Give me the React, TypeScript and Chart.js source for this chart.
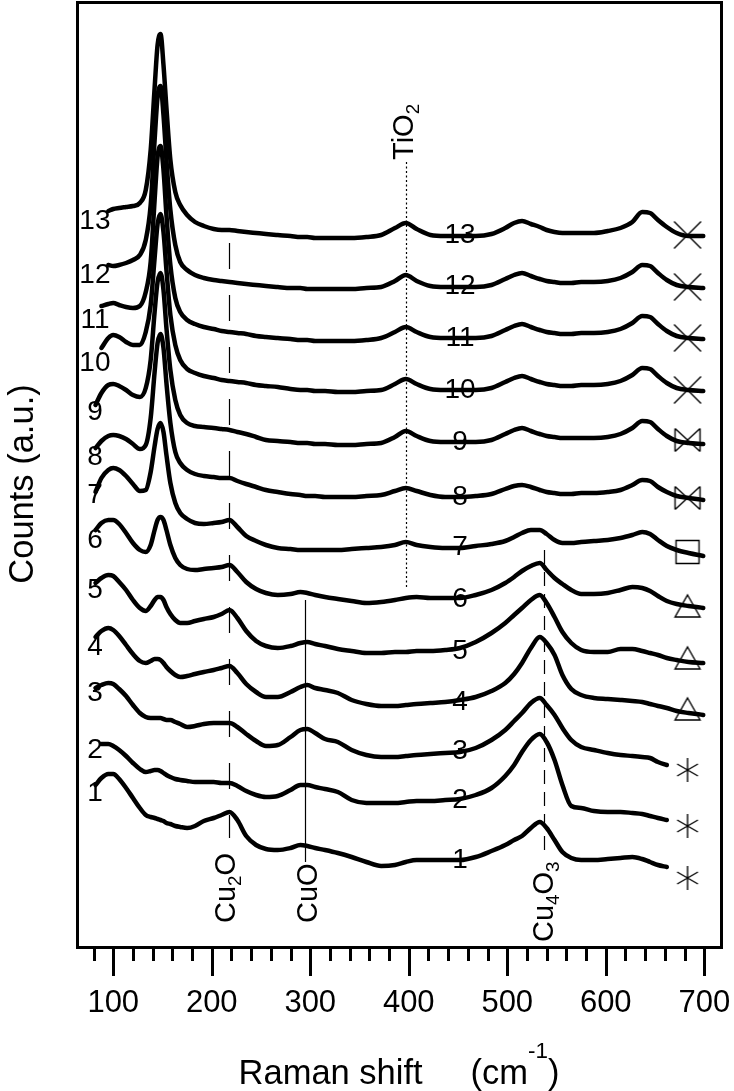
import React, { useEffect, useRef } from 'react';
import { Chart, registerables } from 'chart.js';

Chart.register(...registerables);

const FONT = "'Liberation Sans', Arial, Helvetica, sans-serif";

// Raman shift grid (cm-1)
const shift = [
  82, 88, 95, 100, 106, 113, 120, 127, 133, 138,
  142, 145, 148, 151, 154, 158, 163, 168, 175, 183,
  192, 202, 210, 218, 226, 235, 245, 255, 267, 280,
  290, 297, 305, 315, 328, 342, 357, 372, 386, 397,
  408, 422, 437, 452, 468, 484, 498, 507, 515, 524,
  533, 540, 548, 556, 565, 575, 588, 602, 615, 627,
  637, 645, 653, 662, 672, 684, 699,
];

// Counts (a.u., stacked) for each spectrum
const s1 = [
  215, 222, 226, 226, 221, 212, 202, 192, 185, 183,
  182, 181, 180, 179, 177, 176, 174, 173, 172, 174,
  179, 182, 185, 188, 180, 164, 155, 151, 150, 152,
  155, 154, 152, 150, 147, 143, 138, 134, 135, 138,
  140, 140, 140, 140, 143, 149, 155, 160, 164, 172,
  178, 172, 160, 148, 142, 140, 140, 141, 142, 143,
  141, 138, 135, 133, null, null, null,
];
const s2 = [
  null, 256, 256, 254, 250, 244, 237, 231, 228, 229,
  230, 230, 229, 227, 225, 223, 221, 220, 219, 218,
  218, 218, 217, 217, 214, 209, 205, 203, 204, 210,
  215, 215, 213, 211, 208, 200, 197, 197, 197, 198,
  199, 199, 200, 201, 205, 212, 224, 235, 248, 260,
  266, 258, 240, 215, 194, 192, 189, 188, 188, 187,
  186, 184, 182, 180, null, null, null,
];
const s3 = [
  312, 315, 317, 316, 311, 304, 295, 287, 283, 282,
  282, 282, 282, 281, 280, 280, 278, 276, 273, 274,
  276, 277, 277, 277, 273, 266, 259, 254, 255, 263,
  270, 271, 267, 261, 258, 250, 245, 243, 243, 244,
  245, 246, 247, 248, 252, 260, 270, 279, 287, 297,
  302, 295, 285, 272, 260, 253, 250, 247, 245, 244,
  243, 242, 238, 235, null, null, null,
];
const s4 = [
  363, 369, 372, 370, 364, 355, 346, 339, 337, 339,
  341, 341, 340, 337, 333, 329, 325, 323, 324, 326,
  328, 330, 332, 334, 327, 316, 308, 303, 303, 308,
  313, 315, 312, 310, 307, 300, 296, 294, 294, 295,
  296, 297, 298, 300, 303, 309, 317, 326, 337, 352,
  363, 357, 345, 325, 311, 305, 302, 301, 300, 299,
  298, 296, 294, 292, 289, 287, 285,
];
const s5 = [
  417, 422, 425, 424, 418, 410, 400, 392, 389, 394,
  400, 403, 403, 400, 393, 386, 380, 377, 377, 379,
  381, 383, 386, 390, 382, 369, 359, 354, 352, 354,
  357, 358, 356, 354, 351, 349, 347, 347, 348, 348,
  349, 349, 350, 352, 358, 367, 377, 385, 392, 400,
  405, 397, 383, 368, 357, 350, 348, 348, 351, 351,
  349, 347, 345, 342, 340, 338, 337,
];
const s6 = [
  470, 477, 480, 480, 476, 467, 457, 450, 448, 455,
  470, 480, 483, 480, 470, 455, 442, 435, 431, 430,
  431, 432, 433, 435, 428, 418, 411, 407, 405, 406,
  408, 407, 405, 403, 401, 399, 397, 398, 400, 402,
  403, 402, 402, 402, 405, 410, 417, 423, 429, 434,
  437, 430, 422, 416, 410, 406, 406, 407, 410, 413,
  412, 409, 404, 399, 396, 394, 392,
];
const s7 = [
  508, 522, 530, 532, 530, 524, 516, 509, 510, 528,
  554, 571, 577, 568, 545, 517, 497, 487, 481, 477,
  476, 477, 478, 480, 473, 464, 459, 455, 452, 451,
  450, 450, 450, 450, 450, 451, 452, 453, 455, 458,
  455, 453, 452, 452, 454, 456, 459, 463, 467, 470,
  470, 466, 460, 457, 457, 458, 459, 460, 462, 465,
  468, 466, 460, 454, 450, 447, 444,
];
const s8 = [
  552, 559, 564, 565, 564, 561, 556, 551, 555, 582,
  628, 657, 666, 652, 617, 577, 548, 537, 530, 526,
  524, 523, 522, 522, 519, 516, 513, 510, 508, 506,
  505, 504, 504, 503, 503, 503, 504, 505, 509, 512,
  509, 505, 503, 503, 504, 506, 511, 514, 515, 513,
  510, 508, 507, 506, 506, 507, 507, 508, 510, 515,
  520, 519, 513, 508, 504, 502, 500,
];
const s9 = [
  595, 607, 615, 616, 614, 610, 605, 603, 612, 640,
  688, 718, 727, 710, 672, 630, 600, 585, 577, 574,
  573, 572, 571, 570, 568, 566, 563, 560, 559, 558,
  557, 557, 556, 556, 555, 555, 556, 557, 563, 569,
  564, 559, 558, 558, 558, 560, 566, 570, 572, 569,
  566, 564, 563, 562, 562, 562, 562, 563, 566, 572,
  579, 578, 571, 564, 559, 557, 556,
];
const s10 = [
  null, 652, 662, 665, 663, 658, 655, 655, 668, 695,
  742, 776, 786, 768, 730, 685, 655, 640, 631, 627,
  624, 622, 620, 619, 618, 617, 615, 614, 613, 611,
  610, 610, 609, 609, 608, 608, 609, 610, 616, 621,
  616, 611, 610, 610, 610, 612, 618, 622, 624, 621,
  618, 616, 615, 614, 614, 615, 615, 616, 619, 625,
  632, 631, 624, 617, 612, 610, 609,
];
const s11 = [
  null, 694, 696, 697, 695, 693, 692, 694, 708, 738,
  800, 843, 854, 830, 785, 735, 702, 688, 680, 676,
  673, 671, 669, 668, 667, 666, 664, 663, 662, 661,
  660, 660, 659, 659, 659, 659, 660, 662, 668, 673,
  668, 663, 662, 662, 662, 664, 670, 674, 676, 673,
  670, 668, 667, 666, 666, 667, 667, 668, 671, 677,
  684, 683, 676, 669, 664, 662, 661,
];
const s12 = [
  null, null, 735, 734, 735, 737, 740, 745, 760, 795,
  860, 903, 914, 885, 840, 790, 755, 738, 730, 725,
  722, 720, 719, 718, 717, 716, 715, 714, 713, 712,
  712, 711, 711, 711, 711, 711, 712, 713, 719, 725,
  719, 714, 713, 713, 713, 715, 721, 725, 727, 724,
  721, 719, 718, 717, 717, 718, 718, 719, 722, 728,
  735, 734, 727, 720, 715, 713, 712,
];
const s13 = [
  null, null, 789, 791, 792, 793, 794, 797, 810, 850,
  912, 955, 966, 935, 892, 840, 808, 795, 785, 778,
  774, 771, 770, 770, 769, 768, 767, 766, 765, 764,
  763, 763, 762, 762, 762, 762, 763, 765, 772, 777,
  771, 765, 764, 764, 764, 766, 772, 777, 779, 776,
  773, 770, 768, 767, 767, 767, 767, 769, 772, 778,
  788, 787, 780, 773, 767, 764, 764,
];

const spectra = [s1, s2, s3, s4, s5, s6, s7, s8, s9, s10, s11, s12, s13];
const sampleNames = ['1', '2', '3', '4', '5', '6', '7', '8', '9', '10', '11', '12', '13'];

// end-of-trace symbols
const markerKinds = [
  'asterisk', 'asterisk', 'asterisk', 'triangle', 'triangle', 'triangle', 'square',
  'bowtie', 'bowtie', 'cross', 'cross', 'cross', 'cross',
];
const markerShift = 683;
const markerLevel = [122, 174, 230, 291, 342, 394, 448, 502, 560, 610, 662, 713, 765];

// sample number tags (left and middle)
const leftTagShift = 81.4;
const leftTagLevel = [207, 250, 307, 353, 410, 460, 505, 543, 588, 637, 680, 725, 779];
const rightTagShift = 452;
const rightTagLevel = [140, 200, 249, 298, 349, 401, 453, 503, 558, 610, 662, 714, 765];

// phase reference lines
type Part = [string, number];
const refNames: Part[][] = [
  [['Cu', 0], ['2', 1], ['O', 0]],
  [['CuO', 0]],
  [['TiO', 0], ['2', 1]],
  [['Cu', 0], ['4', 1], ['O', 0], ['3', 1]],
];
const refShift = [218, 295, 397, 537];
const refTop = [757, 400, 838, 450];
const refBottom = [162, 138, 412, 150];
const refLabelShift = [223.6, 306.8, 404.3, 546.4];
const refLabelLevel = [77, 77, 840, 58];
const refDash: number[][] = [[26, 26], [], [2, 2.5], [14, 8]];

function makeMarker(kind: string): HTMLCanvasElement {
  const c = document.createElement('canvas');
  const S = 34;
  c.width = S;
  c.height = S;
  const g = c.getContext('2d')!;
  const m = S / 2;
  g.strokeStyle = '#000';
  g.lineWidth = 1.4;
  g.beginPath();
  if (kind === 'cross') {
    const a = 13.5;
    g.moveTo(m - a, m - a); g.lineTo(m + a, m + a);
    g.moveTo(m - a, m + a); g.lineTo(m + a, m - a);
  } else if (kind === 'bowtie') {
    const a = 12.5, b = 11.5;
    g.moveTo(m - a, m - b); g.lineTo(m + a, m + b);
    g.moveTo(m - a, m + b); g.lineTo(m + a, m - b);
    g.moveTo(m - a, m - b); g.lineTo(m - a, m + b);
    g.moveTo(m + a, m - b); g.lineTo(m + a, m + b);
  } else if (kind === 'square') {
    g.rect(m - 11.5, m - 11.5, 23, 23);
  } else if (kind === 'triangle') {
    g.moveTo(m, m - 11);
    g.lineTo(m + 12.5, m + 11);
    g.lineTo(m - 12.5, m + 11);
    g.closePath();
  } else {
    const r = 12;
    g.moveTo(m, m - r); g.lineTo(m, m + r);
    g.moveTo(m - r * 0.866, m - r * 0.5); g.lineTo(m + r * 0.866, m + r * 0.5);
    g.moveTo(m - r * 0.866, m + r * 0.5); g.lineTo(m + r * 0.866, m - r * 0.5);
  }
  g.stroke();
  return c;
}

function drawRich(
  ctx: CanvasRenderingContext2D,
  parts: Part[],
  x: number,
  y: number,
  size: number,
  angle: number,
  halo = false,
  align: 'left' | 'center' = 'left'
) {
  ctx.save();
  ctx.translate(x, y);
  ctx.rotate(angle);
  ctx.textAlign = 'left';
  ctx.textBaseline = 'alphabetic';
  let total = 0;
  for (const [t, k] of parts) {
    ctx.font = `${k === 0 ? size : size * 0.65}px ${FONT}`;
    total += ctx.measureText(t).width;
  }
  let cx = align === 'center' ? -total / 2 : 0;
  for (const [t, k] of parts) {
    const s = k === 0 ? size : size * 0.65;
    ctx.font = `${s}px ${FONT}`;
    const dy = k === 1 ? size * 0.22 : k === 2 ? -size * 0.75 : 0;
    if (halo) {
      ctx.strokeStyle = '#fff';
      ctx.lineWidth = 4;
      ctx.strokeText(t, cx, dy);
    }
    ctx.fillStyle = '#000';
    ctx.fillText(t, cx, dy);
    cx += ctx.measureText(t).width;
  }
  ctx.restore();
}

const decor = {
  id: 'decor',
  beforeDatasetsDraw(chart: any) {
    const { ctx, scales } = chart;
    const x = scales.x;
    const y = scales.y;
    ctx.save();
    ctx.strokeStyle = '#000';
    ctx.lineWidth = 1.2;
    refShift.forEach((v, i) => {
      const px = Math.round(x.getPixelForValue(v)) + 0.5;
      ctx.setLineDash(refDash[i]);
      ctx.beginPath();
      ctx.moveTo(px, y.getPixelForValue(refTop[i]));
      ctx.lineTo(px, y.getPixelForValue(refBottom[i]));
      ctx.stroke();
    });
    ctx.setLineDash([]);
    ctx.fillStyle = '#000';
    ctx.font = `28px ${FONT}`;
    ctx.textAlign = 'center';
    ctx.textBaseline = 'middle';
    sampleNames.forEach((n, i) => {
      ctx.fillText(n, x.getPixelForValue(leftTagShift), y.getPixelForValue(leftTagLevel[i]));
      ctx.fillText(n, x.getPixelForValue(rightTagShift), y.getPixelForValue(rightTagLevel[i]));
    });
    ctx.restore();
  },
  afterDraw(chart: any) {
    const { ctx, chartArea: a, scales } = chart;
    const x = scales.x;
    const y = scales.y;
    ctx.save();
    ctx.strokeStyle = '#000';
    ctx.lineWidth = 3;
    ctx.strokeRect(a.left + 0.5, a.top + 0.5, a.right - a.left, a.bottom - a.top);
    ctx.beginPath();
    x.ticks.forEach((t: any) => {
      const v = t.value;
      if (Math.abs(v % 20) > 1e-6) return;
      const px = Math.round(x.getPixelForValue(v)) + 0.5;
      const len = v % 100 === 0 ? 29 : 14;
      ctx.moveTo(px, a.bottom);
      ctx.lineTo(px, a.bottom + len);
    });
    ctx.stroke();

    refNames.forEach((parts, i) => {
      drawRich(
        ctx,
        parts,
        x.getPixelForValue(refLabelShift[i]),
        y.getPixelForValue(refLabelLevel[i]),
        29,
        -Math.PI / 2,
        i === 3
      );
    });

    // axis titles
    drawRich(
      ctx,
      [['Raman shift     (cm', 0], ['-1', 2], [')', 0]],
      (a.left + a.right) / 2,
      1084,
      34.5,
      0,
      false,
      'center'
    );
    drawRich(ctx, [['Counts (a.u.)', 0]], 33, 484, 34.5, -Math.PI / 2, false, 'center');
    ctx.restore();
  },
};

export default function App() {
  const ref = useRef<HTMLCanvasElement | null>(null);

  useEffect(() => {
    const canvas = ref.current;
    if (!canvas) return;
    const markers = markerKinds.map(makeMarker);
    const datasets: any[] = spectra.map((s, i) => ({
      label: 'Sample ' + sampleNames[i],
      data: shift
        .map((v, j) => ({ x: v, y: s[j] }))
        .filter((p) => p.y !== null),
      borderColor: '#000',
      borderWidth: 4.5,
      pointRadius: 0,
      fill: false,
      cubicInterpolationMode: 'monotone',
      borderJoinStyle: 'round',
      borderCapStyle: 'round',
    }));
    datasets.push({
      label: 'symbols',
      data: markerLevel.map((v) => ({ x: markerShift, y: v })),
      showLine: false,
      pointStyle: markers,
      pointRadius: 14,
      borderColor: '#000',
      backgroundColor: 'rgba(0,0,0,0)',
    });

    const chart = new Chart(canvas, {
      type: 'line',
      data: { datasets },
      options: {
        responsive: false,
        animation: false,
        events: [],
        layout: { autoPadding: false, padding: { left: 77, right: 13, top: 2, bottom: 0 } },
        plugins: { legend: { display: false }, tooltip: { enabled: false } },
        scales: {
          x: {
            type: 'linear',
            min: 63.2,
            max: 717,
            afterFit: (s: any) => {
              s.height = 144;
              s.paddingLeft = 0;
              s.paddingRight = 0;
            },
            grid: { display: false, drawTicks: false },
            border: { display: false },
            ticks: {
              stepSize: 20,
              includeBounds: false,
              autoSkip: false,
              maxRotation: 0,
              minRotation: 0,
              padding: 38,
              color: '#000',
              font: { family: FONT, size: 31 },
              callback: (v: any) => (Number(v) % 100 === 0 ? String(v) : ''),
            },
          },
          y: { type: 'linear', display: false, min: 53, max: 998 },
        },
      } as any,
      plugins: [decor],
    });
    return () => chart.destroy();
  }, []);

  return (
    <div style={{ position: 'absolute', left: 0, top: 0, width: 734, height: 1091, background: '#fff' }}>
      <canvas ref={ref} width={734} height={1091} style={{ display: 'block' }} />
    </div>
  );
}
